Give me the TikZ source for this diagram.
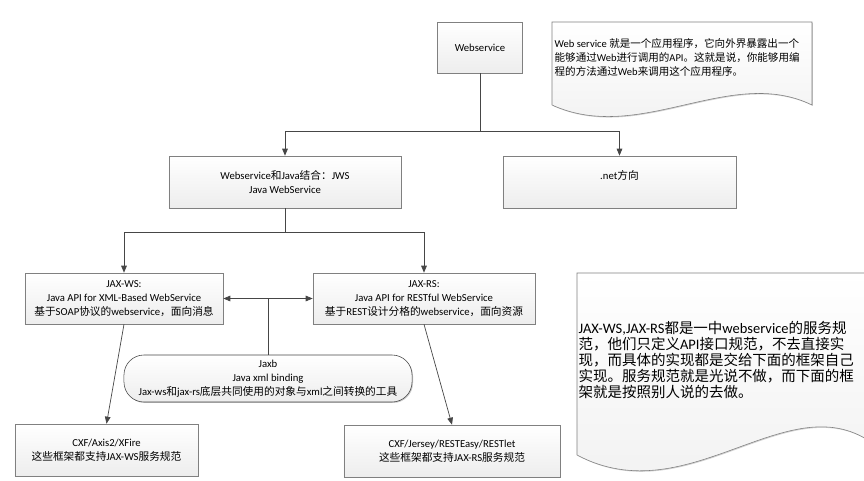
\documentclass[tikz,border=0pt]{standalone}
\usepackage{fontspec}
\setmainfont{Carlito}
\newfontfamily\cjk{Noto Sans CJK SC}
\newcommand{\zh}[1]{{\cjk #1}}
\usepackage{tikz}
\usetikzlibrary{arrows.meta,shadows}
\usepackage{xcolor}
\definecolor{boxline}{RGB}{128,128,128}
\definecolor{linkcolor}{RGB}{70,70,70}

\begin{document}
\begin{tikzpicture}[
    x=0.025cm, y=-0.025cm,
    box/.style={rectangle, draw=boxline, top color=white, bottom color=gray!14,
        drop shadow={shadow xshift=0.7pt, shadow yshift=-0.7pt, fill=black!60, opacity=0.35},
        align=center, inner sep=1pt, font=\fontsize{7.6}{10}\selectfont},
    roundbox/.style={box, draw=linkcolor, rounded corners=0.5cm},
    note/.style={draw=boxline, top color=white, bottom color=gray!12,
        drop shadow={shadow xshift=0.7pt, shadow yshift=-0.7pt, fill=black!60, opacity=0.3}},
    notetext/.style={anchor=west, align=left, inner sep=1pt},
    link/.style={draw=linkcolor, line width=0.5pt},
    flow/.style={link, -{Triangle[length=5pt, width=4pt]}},
    both/.style={link, {Triangle[length=5pt, width=4pt]}-{Triangle[length=5pt, width=4pt]}}
]
    \useasboundingbox (0,0) rectangle (864,481);

    % Notes
    \shadedraw[note] (552,22) -- (812,22) -- (812,105)
        .. controls (730,65) and (640,145) .. (552,105) -- cycle;
    \shadedraw[note] (577,273) -- (875,273) -- (875,445)
        .. controls (790,380) and (690,515) .. (577,455) -- cycle;

    \node[notetext, font=\fontsize{7.5}{10.2}\selectfont] (wsnote) at (553,57.5) {
        Web service \zh{就是一个应用程序，它向外界暴露出一个}\\
        \zh{能够通过}Web\zh{进行调用的}API\zh{。这就是说，你能够用编}\\
        \zh{程的方法通过}Web\zh{来调用这个应用程序。}
    };
    \node[notetext, font=\fontsize{10.3}{11.3}\selectfont] (specnote) at (577,360) {
        JAX-WS,JAX-RS\zh{都是一中}webservice\zh{的服务规}\\
        \zh{范，他们只定义}API\zh{接口规范，不去直接实}\\
        \zh{现，而具体的实现都是交给下面的框架自己}\\
        \zh{实现。服务规范就是光说不做，而下面的框}\\
        \zh{架就是按照别人说的去做。}
    };

    % Top level
    \node[box, minimum width=2.125cm, minimum height=1.275cm] (ws) at (480,47.5) {Webservice};
    \node[box, minimum width=5.8cm, minimum height=1.3cm] (jws) at (285,182) {
        Webservice\zh{和}Java\zh{结合：}JWS\\Java WebService};
    \node[box, minimum width=5.825cm, minimum height=1.3cm] (net) at (619.5,182) {
        .net\zh{方向}\\ \mbox{}};

    % Specifications
    \node[box, minimum width=4.95cm, minimum height=1.275cm] (jaxws) at (124,298.5) {
        JAX-WS:\\Java API for XML-Based WebService\\
        \zh{基于}SOAP\zh{协议的}webservice\zh{，面向消息}};
    \node[box, minimum width=5.55cm, minimum height=1.275cm] (jaxrs) at (424,298.5) {
        JAX-RS:\\Java API for RESTful WebService\\
        \zh{基于}REST\zh{设计分格的}webservice\zh{，面向资源}};
    \node[roundbox, minimum width=7.2cm, minimum height=1.175cm] (jaxb) at (268,378.5) {
        Jaxb\\Java xml binding\\
        Jax-ws\zh{和}jax-rs\zh{底层共同使用的对象与}xml\zh{之间转换的工具}};

    % Frameworks
    \node[box, minimum width=4.575cm, minimum height=1.3cm] (cxfws) at (106.5,450) {
        CXF/Axis2/XFire\\\zh{这些框架都支持}JAX-WS\zh{服务规范}};
    \node[box, minimum width=5.4cm, minimum height=1.3cm] (cxfrs) at (452,451) {
        CXF/Jersey/RESTEasy/RESTlet\\\zh{这些框架都支持}JAX-RS\zh{服务规范}};

    % Connectors
    \coordinate (split) at (480,131);
    \coordinate (jsplit) at (285,232);
    \draw[link] (ws) -- (split);
    \draw[flow] (split) -| (jws.north);
    \draw[flow] (split) -| (net.north);
    \draw[link] (jws) -- (jsplit);
    \draw[flow] (jsplit) -| (jaxws.north);
    \draw[flow] (jsplit) -| (jaxrs.north);
    \draw[both] (jaxws.east) -- (jaxrs.west);
    \draw[link] (jaxb.north) -- (jaxb.north |- jaxws.east);
    \draw[flow] (jaxws.south) -- (cxfws.north);
    \draw[flow] (jaxrs.south) -- (cxfrs.north);
\end{tikzpicture}
\end{document}
